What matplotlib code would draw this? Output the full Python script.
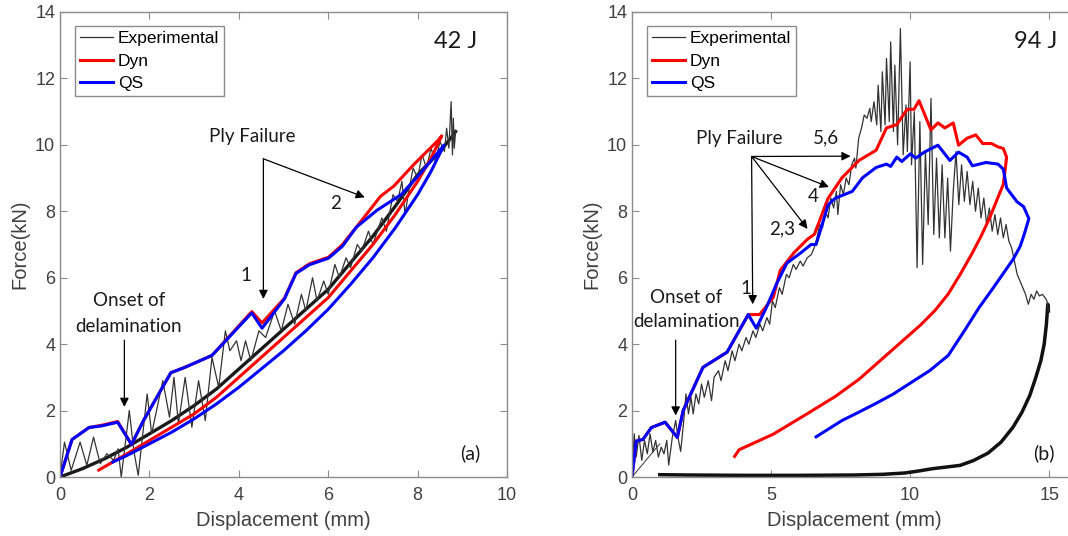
import matplotlib
matplotlib.use("Agg")
import matplotlib.pyplot as plt

plt.rcParams["font.family"] = ["Liberation Sans", "DejaVu Sans"]

# ---- 42 J panel data ----
exp42_load_x = [0, 0.1, 0.25, 0.45, 0.6, 0.75, 0.9, 1.05, 1.2, 1.3, 1.37, 1.55, 1.65, 1.75, 1.95, 2.05, 2.3, 2.45,
                2.55, 2.65, 2.8, 2.95, 3.1, 3.25, 3.4, 3.55, 3.7, 3.8, 3.95, 4.05, 4.15, 4.27, 4.45, 4.6, 4.8, 4.95,
                5.1, 5.25, 5.4, 5.5, 5.65, 5.75, 5.9, 6.0, 6.15, 6.25, 6.4, 6.5, 6.65, 6.75, 6.9, 7.0, 7.2, 7.3,
                7.45, 7.55, 7.65, 7.72, 7.8, 7.9, 8.0, 8.1, 8.2, 8.3, 8.4, 8.5, 8.6, 8.65, 8.7, 8.75, 8.78, 8.8,
                8.82, 8.85]
exp42_load_y = [0, 1.05, 0.2, 1.05, 0.35, 1.2, 0.4, 0.7, 0.5, 0.85, 0.0, 2.0, 0.8, 0.05, 2.5, 1.3, 2.9, 1.8,
                3.0, 1.6, 3.0, 1.5, 2.9, 1.7, 3.6, 2.7, 4.4, 3.8, 4.1, 3.5, 4.1, 3.5, 4.4, 4.2, 5.0, 4.4,
                5.2, 4.6, 5.5, 5.0, 6.0, 5.3, 5.9, 5.5, 6.4, 6.0, 6.6, 6.3, 7.0, 6.8, 7.4, 7.0, 7.8, 7.4,
                8.5, 8.3, 8.9, 7.9, 8.6, 9.3, 9.0, 9.7, 9.3, 9.9, 9.5, 10.1, 9.8, 10.5, 9.9, 11.3, 9.7, 10.8,
                9.9, 10.4]
exp42_unload_x = [8.85, 8.8, 8.5, 8.0, 7.5, 7.0, 6.5, 6.0, 5.5, 5.0, 4.5, 4.0, 3.5, 3.0, 2.5, 2.0, 1.5,
                  1.0, 0.5, 0.0]
exp42_unload_y = [10.4, 10.3, 9.8, 9.1, 8.15, 7.25, 6.45, 5.65, 5.05, 4.45, 3.85, 3.25, 2.65, 2.15, 1.7, 1.3,
                  0.9, 0.55, 0.25, 0.0]

dyn42_x = [0, 0.27, 0.65, 0.94, 1.29, 1.6, 1.86, 2.48, 2.79, 3.4, 4.29, 4.52, 5.02, 5.28, 5.58, 6.01, 6.32,
           6.78, 7.17, 7.47, 7.93, 8.47, 8.54, 8.3, 8.0, 7.5, 7.0, 6.5, 6.0, 5.5, 5.0, 4.5, 4.0, 3.5, 3.0,
           2.5, 2.0, 1.5, 0.87]
dyn42_y = [0, 1.13, 1.49, 1.56, 1.67, 0.98, 1.68, 3.14, 3.3, 3.66, 4.98, 4.64, 5.38, 6.15, 6.42, 6.62, 7.0,
           7.78, 8.45, 8.76, 9.43, 10.15, 10.27, 9.6, 8.9, 7.9, 7.0, 6.2, 5.4, 4.8, 4.2, 3.6, 3.0, 2.4, 1.9,
           1.5, 1.1, 0.7, 0.21]

qs42_x = [0, 0.27, 0.65, 0.94, 1.29, 1.6, 1.86, 2.48, 2.79, 3.4, 4.29, 4.52, 5.02, 5.28, 5.58, 6.01, 6.32, 6.63,
          7.09, 7.63, 8.05, 8.59, 8.3, 8.0, 7.5, 7.0, 6.5, 6.0, 5.5, 5.0, 4.5, 4.0, 3.5, 3.0, 2.5, 2.0, 1.5,
          1.18]
qs42_y = [0, 1.13, 1.49, 1.54, 1.65, 0.98, 1.68, 3.14, 3.3, 3.66, 4.94, 4.48, 5.36, 6.13, 6.39, 6.59, 6.95, 7.52,
          8.03, 8.5, 9.12, 9.99, 9.2, 8.5, 7.5, 6.6, 5.8, 5.05, 4.4, 3.8, 3.25, 2.7, 2.2, 1.75, 1.35, 1.0, 0.65,
          0.45]

# ---- 94 J panel data ----
exp94_load_x = [0, 0.08, 0.15, 0.25, 0.35, 0.45, 0.55, 0.65, 0.75, 0.85, 0.95, 1.05, 1.15, 1.25, 1.32, 1.45, 1.57,
                1.65, 1.75, 1.85, 1.94, 2.03, 2.12, 2.2, 2.3, 2.4, 2.5, 2.6, 2.74, 2.86, 2.95, 3.11, 3.2, 3.35,
                3.45, 3.6, 3.7, 3.85, 3.95, 4.1, 4.2, 4.35, 4.45, 4.6, 4.7, 4.85, 4.95, 5.05, 5.15, 5.3, 5.4,
                5.55, 5.65, 5.8, 5.9, 6.05, 6.15, 6.3, 6.45, 6.55, 6.65, 6.75, 6.85, 6.95, 7.05, 7.15, 7.25,
                7.35, 7.4, 7.5, 7.6, 7.7, 7.8, 7.9, 8.0, 8.05, 8.15, 8.25, 8.35, 8.45, 8.55, 8.6, 8.7, 8.8,
                8.85, 8.95, 9.0, 9.1, 9.15, 9.25, 9.3, 9.4, 9.45, 9.55, 9.65, 9.75, 9.85, 9.9, 10.0, 10.05,
                10.15, 10.25, 10.35, 10.45, 10.55, 10.65, 10.75, 10.85, 10.95, 11.05, 11.15, 11.25, 11.35,
                11.45, 11.55, 11.65, 11.75, 11.85, 11.95, 12.05, 12.15, 12.25, 12.35, 12.45, 12.55, 12.65,
                12.75, 12.85, 12.95, 13.05, 13.15, 13.25, 13.35, 13.45, 13.55, 13.65, 13.75, 13.85, 13.95,
                14.05, 14.15, 14.25, 14.35, 14.45, 14.55, 14.65, 14.75, 14.85, 14.92, 14.97]
exp94_load_y = [0, 1.3, 0.6, 1.25, 0.5, 1.1, 0.7, 1.3, 0.75, 1.1, 0.6, 0.9, 0.7, 1.1, 0.36, 1.2, 1.7,
                1.2, 0.77, 1.6, 2.5, 1.9, 2.4, 1.9, 2.5, 2.2, 2.8, 2.4, 2.9, 2.3, 3.0, 3.2, 2.9, 3.5,
                3.2, 3.8, 3.5, 4.0, 3.8, 4.2, 4.0, 4.4, 4.2, 4.6, 4.4, 4.8, 4.6, 5.3, 5.1, 5.7, 5.5,
                6.1, 6.0, 6.4, 6.25, 6.5, 6.35, 6.6, 6.7, 6.9, 7.2, 7.6, 7.5, 8.0, 7.8, 8.4, 8.1,
                8.6, 7.9, 8.8, 8.5, 9.0, 8.8, 9.4, 9.6, 9.3, 10.2, 10.5, 10.9, 10.8, 11.1, 10.7, 11.3, 10.6,
                11.8, 10.4, 12.2, 10.6, 12.6, 10.7, 13.1, 10.4, 12.4, 10.0, 13.5, 9.7, 11.2, 9.8, 12.5, 9.4,
                11.0, 6.3, 10.7, 6.4, 9.8, 7.6, 11.4, 7.3, 9.6, 7.2, 9.4, 7.2, 9.0,
                6.8, 8.6, 9.8, 8.2, 9.4, 8.3, 9.2, 8.2, 8.9, 8.0, 8.7, 7.8, 8.4,
                7.6, 8.1, 7.4, 7.9, 7.3, 7.8, 7.2, 7.6, 7.1, 6.9, 6.5, 6.1, 5.9,
                5.7, 5.5, 5.2, 5.5, 5.35, 5.6, 5.45, 5.5, 5.4, 5.3, 5.0]
exp94_unload_x = [14.97, 14.95, 14.9, 14.82, 14.7, 14.52, 14.3, 14.02, 13.7, 13.27, 12.8, 12.29, 11.8, 11.3,
                  10.8, 10.3, 9.8, 9.0, 8.0, 6.0, 4.0, 2.0, 1.0]
exp94_unload_y = [5.0, 5.2, 4.6, 4.0, 3.5, 3.0, 2.45, 1.95, 1.5, 1.05, 0.72, 0.5, 0.35, 0.3,
                  0.25, 0.18, 0.12, 0.08, 0.06, 0.05, 0.05, 0.06, 0.07]
exp94_close_x = [0, 1.0]
exp94_close_y = [0, 1.0]

dyn94_x = [0, 0.15, 0.39, 0.70, 1.19, 1.63, 1.84, 2.55, 3.42, 4.18, 4.59, 5.08, 5.33, 5.82, 6.31, 6.56, 7.05,
           7.55, 8.16, 8.78, 9.15, 9.52, 9.89, 10.14, 10.32, 10.75, 11.0, 11.25, 11.55, 11.74, 12.05, 12.36,
           12.61, 12.92, 13.16, 13.35, 13.47, 13.35, 13.1, 12.85, 12.55, 12.24, 11.8, 11.37, 10.9, 10.38,
           9.27, 8.16, 7.3, 6.31, 5.08, 3.85, 3.69]
dyn94_y = [0, 1.08, 1.13, 1.49, 1.65, 1.19, 2.0, 3.3, 3.76, 4.89, 4.89, 5.41, 6.22, 6.75, 7.16, 7.31, 8.39,
           9.01, 9.53, 9.84, 10.51, 10.61, 11.07, 11.07, 11.33, 10.45, 10.66, 10.51, 10.66, 9.99, 10.2, 10.3,
           10.04, 10.04, 9.94, 9.89, 9.63, 8.81, 8.3, 7.78, 7.25, 6.75, 6.1, 5.51, 5.02, 4.58,
           3.76, 2.94, 2.42, 1.91, 1.29, 0.82, 0.62]

qs94_x = [0, 0.15, 0.39, 0.70, 1.19, 1.63, 1.84, 2.55, 3.42, 4.18, 4.47, 4.83, 5.2, 5.57, 6.07, 6.44, 6.62,
          7.05, 7.30, 7.92, 8.29, 8.78, 9.15, 9.3, 9.52, 9.7, 10.01, 10.2, 10.51, 11.0, 11.43, 11.74, 12.05,
          12.24, 12.73, 13.16, 13.35, 13.47, 13.84, 14.08, 14.27, 14.1, 13.96, 13.7, 13.35, 12.95, 12.48,
          11.95, 11.37, 10.7, 10.01, 9.4, 8.78, 8.15, 7.55, 6.62]
qs94_y = [0, 1.08, 1.13, 1.49, 1.65, 1.19, 2.0, 3.3, 3.76, 4.89, 4.48, 5.1, 5.82, 6.44, 6.75, 7.0, 7.0,
          8.19, 8.39, 8.6, 9.01, 9.32, 9.42, 9.35, 9.63, 9.5, 9.73, 9.6, 9.78, 9.99, 9.53, 9.78, 9.63,
          9.37, 9.47, 9.42, 9.27, 8.7, 8.29, 8.14, 7.78, 7.3, 6.95, 6.55, 6.13, 5.65, 5.1,
          4.4, 3.66, 3.2, 2.83, 2.5, 2.22, 1.95, 1.7, 1.21]

legend_labels = ["Experimental", "Dyn", "QS"]
ann_font = "Lato"
spine_col = "0.55"
label_col = "0.25"

fig = plt.figure(figsize=(10.68, 5.36), dpi=100)
ax1 = fig.add_axes([60 / 1068, 59 / 536, 447 / 1068, 465 / 536])
ax2 = fig.add_axes([632 / 1068, 59 / 536, 445 / 1068, 465 / 536])


def style(ax, xmax, xticks):
	ax.set_xlim(0, xmax)
	ax.set_ylim(0, 14)
	ax.set_xticks(xticks)
	ax.set_yticks(range(0, 15, 2))
	ax.tick_params(direction="in", top=True, right=True, length=5, width=0.8,
				   color=spine_col, labelcolor=label_col, labelsize=13)
	ax.tick_params(axis="x", pad=7)
	for s in ax.spines.values():
		s.set_color(spine_col)
		s.set_linewidth(1.0)
	ax.set_xlabel("Displacement (mm)", fontsize=14.5, color=label_col, labelpad=5)
	ax.set_ylabel("Force(kN)", fontsize=14.5, color=label_col, labelpad=4)


def add_legend(ax, handles):
	ax.legend(handles, legend_labels, loc="upper left", bbox_to_anchor=(0.034, 0.97),
			  borderaxespad=0, fancybox=False, edgecolor="0.55", fontsize=12.5, handlelength=1.9,
			  handletextpad=0.25, labelspacing=0.42, borderpad=0.3, framealpha=1)


def arrow(ax, x0, y0, x1, y1):
	ax.annotate("", xy=(x1, y1), xytext=(x0, y0),
				arrowprops=dict(arrowstyle="-|>", color="k", lw=0.9, mutation_scale=13,
								shrinkA=0, shrinkB=0))


def txt(ax, x, y, s, size=13.5):
	ax.text(x, y, s, fontsize=size, family=ann_font, color="#1a1a1a", ha="center", va="center")


# left panel
ax1.plot(exp42_unload_x, exp42_unload_y, color="#1a1a1a", lw=2.4)
l_exp, = ax1.plot(exp42_load_x, exp42_load_y, color="#333333", lw=0.9)
l_dyn, = ax1.plot(dyn42_x, dyn42_y, color="#ff0000", lw=2.2)
l_qs, = ax1.plot(qs42_x, qs42_y, color="#0000ff", lw=2.2)
style(ax1, 10, range(0, 11, 2))
add_legend(ax1, [l_exp, l_dyn, l_qs])
txt(ax1, 8.85, 13.1, "42 J", 17)
txt(ax1, 9.17, 0.72, "(a)", 14)
txt(ax1, 4.29, 10.25, "Ply Failure")
arrow(ax1, 4.55, 9.58, 4.55, 5.36)
arrow(ax1, 4.55, 9.58, 6.82, 8.42)
txt(ax1, 4.17, 6.08, "1")
txt(ax1, 6.17, 8.24, "2")
txt(ax1, 1.54, 5.3, "Onset of")
txt(ax1, 1.54, 4.54, "delamination")
arrow(ax1, 1.44, 4.12, 1.44, 2.11)

# right panel
ax2.plot(exp94_unload_x, exp94_unload_y, color="#111111", lw=2.5)
ax2.plot(exp94_close_x, exp94_close_y, color="#333333", lw=0.7)
r_exp, = ax2.plot(exp94_load_x, exp94_load_y, color="#333333", lw=0.9)
r_dyn, = ax2.plot(dyn94_x, dyn94_y, color="#ff0000", lw=2.2)
r_qs, = ax2.plot(qs94_x, qs94_y, color="#0000ff", lw=2.2)
style(ax2, 16, [0, 5, 10, 15])
add_legend(ax2, [r_exp, r_dyn, r_qs])
txt(ax2, 14.5, 13.1, "94 J", 17)
txt(ax2, 14.8, 0.72, "(b)", 14)
txt(ax2, 3.85, 10.2, "Ply Failure")
arrow(ax2, 4.3, 9.65, 4.34, 5.2)
arrow(ax2, 4.3, 9.65, 6.31, 7.47)
arrow(ax2, 4.3, 9.65, 7.08, 8.73)
arrow(ax2, 4.3, 9.65, 7.86, 9.66)
txt(ax2, 4.1, 5.67, "1")
txt(ax2, 5.41, 7.47, "2,3")
txt(ax2, 6.5, 8.45, "4")
txt(ax2, 6.96, 10.2, "5,6")
txt(ax2, 1.96, 5.41, "Onset of")
txt(ax2, 1.96, 4.69, "delamination")
arrow(ax2, 1.57, 4.12, 1.57, 1.85)

fig.savefig("out.png", dpi=100)
